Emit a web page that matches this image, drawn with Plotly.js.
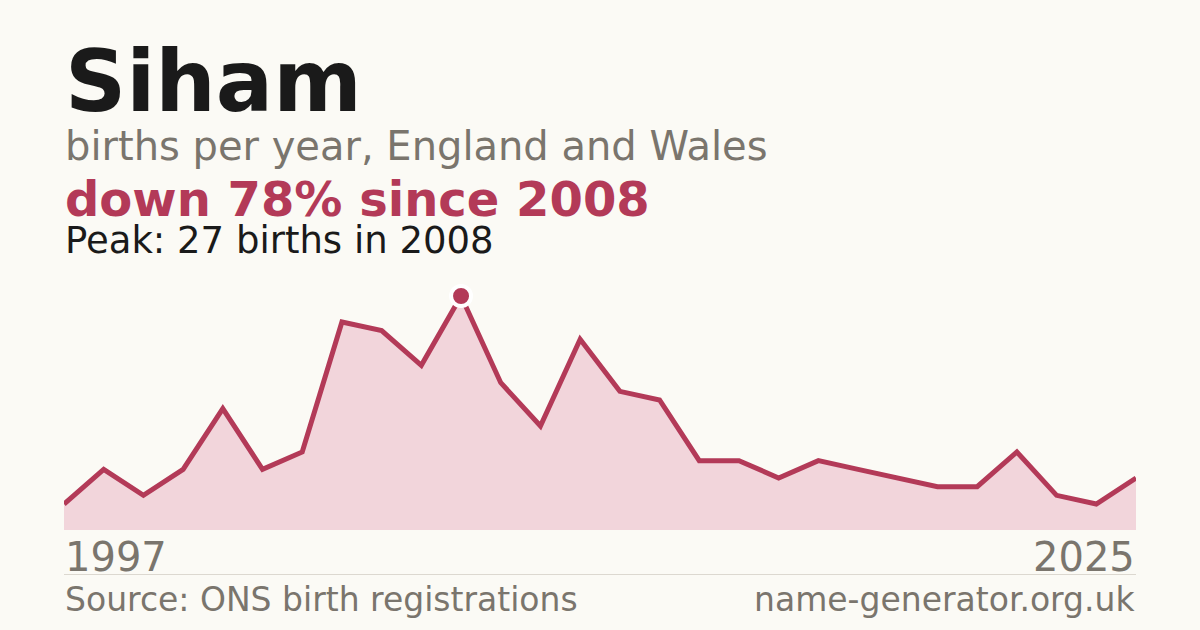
<!DOCTYPE html>
<html>
<head>
<meta charset="utf-8">
<script src="https://cdn.plot.ly/plotly-3.0.1.min.js"></script>
<style>
  html, body { margin: 0; padding: 0; background: #fbfaf5; }
  #chart { width: 1200px; height: 630px; }
</style>
</head>
<body>
<div id="chart"></div>
<script>
// Data (births per year)
const years = ["1997","1999","2000","2001","2002","2003","2004","2005","2006","2007",
               "2008","2009","2010","2011","2012","2013","2014","2015","2016","2017",
               "2018","2019","2020","2021","2022","2023","2024","2025"];
const births = [3, 7, 4, 7, 14, 7, 9, 24, 23, 19,
                27, 17, 12, 22, 16, 15, 8, 8, 6, 8,
                7, 6, 5, 5, 9, 4, 3, 6];
const nameText = "Siham";
const subtitleText = "births per year, England and Wales";
const sourceText = "Source: ONS birth registrations";
const siteText = "name-generator.org.uk";

const RED = "#b33a58";
const GREY = "#7a756d";
const FONT = "DejaVu Sans, Verdana, sans-serif";

let peakIdx = 0;
births.forEach((v, i) => { if (v > births[peakIdx]) peakIdx = i; });
const peakVal = births[peakIdx];
const peakYear = years[peakIdx];
const lastVal = births[births.length - 1];
const pct = Math.round((1 - lastVal / peakVal) * 100);

// pixel -> paper conversion (plot area spans y 270..530)
const T = 270, B = 530;
const py = p => (B - p) / (B - T);

const traces = [
  {
    type: "scatter", mode: "lines", x: years, y: births,
    line: { color: RED, width: 5 },
    fill: "tozeroy", fillcolor: "#f2d5db",
    hoverinfo: "skip"
  },
  {
    type: "scatter", mode: "markers", x: [peakYear], y: [peakVal],
    marker: { color: RED, size: 20, line: { color: "#ffffff", width: 4 } },
    hoverinfo: "skip"
  }
];

const ann = (text, x, xref, y, size, color, bold, xanchor) => ({
  text: bold ? "<b>" + text + "</b>" : text,
  x: x, xref: xref, y: y, yref: "paper",
  xanchor: xanchor, yanchor: "top",
  showarrow: false, borderpad: 0,
  font: { family: FONT, size: size, color: color }
});

const layout = {
  width: 1200, height: 630,
  margin: { l: 64, r: 64, t: T, b: 630 - B, pad: 0 },
  paper_bgcolor: "#fbfaf5", plot_bgcolor: "#fbfaf5",
  showlegend: false,
  xaxis: {
    type: "category", range: [0, years.length - 1],
    showgrid: false, zeroline: false, showticklabels: false, ticks: "", showline: false,
    fixedrange: true
  },
  yaxis: {
    range: [0, 30], showgrid: false, zeroline: false, showticklabels: false,
    ticks: "", showline: false, fixedrange: true
  },
  annotations: [
    ann(nameText, 0, "paper", py(31), 85, "#1a1a1a", true, "left"),
    ann(subtitleText, 0, "paper", py(122), 40, GREY, false, "left"),
    ann("down " + pct + "% since " + peakYear, 0, "paper", py(170), 48, RED, true, "left"),
    ann("Peak: " + peakVal + " births in " + peakYear, 0, "paper", py(218), 37, "#1a1a1a", false, "left"),
    ann(years[0], 0, "paper", py(533), 40, GREY, false, "left"),
    ann(years[years.length - 1], 1, "paper", py(533), 40, GREY, false, "right"),
    ann(sourceText, 0, "paper", py(579), 33, GREY, false, "left"),
    ann(siteText, 1, "paper", py(579), 33, GREY, false, "right")
  ],
  shapes: [
    { type: "line", xref: "paper", yref: "paper", x0: 0, x1: 1, y0: py(574.5), y1: py(574.5),
      line: { color: "#dcd8d0", width: 1 } }
  ]
};

Plotly.newPlot("chart", traces, layout, { staticPlot: true, displayModeBar: false });
</script>
</body>
</html>
